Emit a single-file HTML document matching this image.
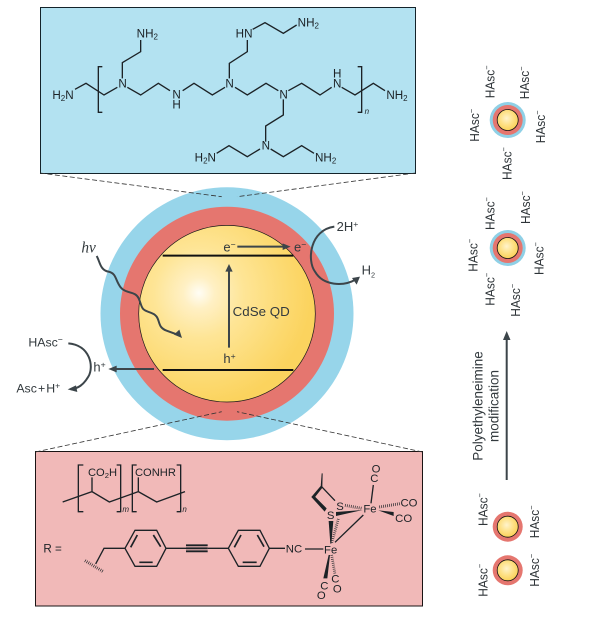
<!DOCTYPE html>
<html><head><meta charset="utf-8"><style>
html,body{margin:0;padding:0;background:#fff}
svg{display:block}
text{font-family:"Liberation Sans",sans-serif}
.b{fill:none;stroke:#1c2226;stroke-width:4;stroke-linejoin:miter}
.c{fill:#1c2226;font-size:35px}
.d{fill:#1c2226;font-size:34px;text-anchor:middle}
.h{fill:#2e3438;font-size:13px}
.t{fill:#333a3e;font-size:39px}
.a{fill:none;stroke:#3c454a;stroke-width:6}
.ah{fill:#3c454a}
</style></head><body>
<svg width="600" height="625" viewBox="0 0 600 625" xmlns="http://www.w3.org/2000/svg">
<defs>
<radialGradient id="g" gradientUnits="userSpaceOnUse" cx="199" cy="293" r="112">
<stop offset="0" stop-color="#fffdf5"/><stop offset=".14" stop-color="#fff0c4"/><stop offset=".4" stop-color="#fee596"/><stop offset=".8" stop-color="#fcd96f"/><stop offset="1" stop-color="#fbd35e"/>
</radialGradient>
<radialGradient id="gs" cx=".45" cy=".42" r=".6">
<stop offset="0" stop-color="#fff3cc"/><stop offset=".5" stop-color="#fee28a"/><stop offset="1" stop-color="#fbd055"/>
</radialGradient>
</defs>

<!-- top box -->
<rect x="40.500" y="7.500" width="375" height="166" fill="#b3e2f1" stroke="#14232a" stroke-width="1"/>
<g transform="translate(30,0) scale(.33333)">
<path class="b" d="M135 268L168 250L222 285L262 262M277 235V188L332 155V120M292 262L332 285L385 250L420 272M458 272L492 250L547 285L585 262M598 235V190L652 155V120M668 88L705 68L760 100L800 75M615 262L652 285L708 250L745 272M775 272L815 250L870 285L905 262M935 262L975 285L1030 250L1065 272M760 298V345L707 378V425M690 447L652 470L597 437L560 460M722 447L760 470L815 437L852 460M217 200H205V337H217M983 200H995V337H983"/>
<text class="c" x="67" y="297">H<tspan font-size="24" dy="6">2</tspan><tspan dy="-6">N</tspan></text>
<text class="c" x="265" y="263">N</text>
<text class="c" x="320" y="112">NH<tspan font-size="24" dy="6">2</tspan></text>
<text class="c" x="427" y="296">N</text><text class="c" x="427" y="326">H</text>
<text class="c" x="586" y="263">N</text>
<text class="c" x="617" y="112">HN</text>
<text class="c" x="803" y="79">NH<tspan font-size="24" dy="6">2</tspan></text>
<text class="c" x="748" y="296">N</text>
<text class="c" x="909" y="263">N</text><text class="c" x="909" y="232">H</text>
<text class="c" x="1069" y="297">NH<tspan font-size="24" dy="6">2</tspan></text>
<text class="c" x="695" y="448">N</text>
<text class="c" x="494" y="484">H<tspan font-size="24" dy="6">2</tspan><tspan dy="-6">N</tspan></text>
<text class="c" x="855" y="484">NH<tspan font-size="24" dy="6">2</tspan></text>
<text class="c" x="1004" y="342" style="font-size:24px;font-style:italic">n</text>
</g>

<!-- bottom box -->
<rect x="35.500" y="451.500" width="387" height="154.500" fill="#f1b9b8" stroke="#1a1414" stroke-width="1"/>
<g transform="translate(30,440) scale(.33333)">
<path class="b" d="M98 186L186 155L238 186L325 155L380 186L465 155M186 155V112M325 155V112M160 75H145V215H160M260 75H272V215H260M320 75H307V215H320M440 75H452V215H440"/>
<text class="c" x="174" y="108" style="font-size:33.500px">CO<tspan font-size="23" dy="6">2</tspan><tspan dy="-6">H</tspan></text>
<text class="c" x="315" y="108" style="font-size:33.500px">CONHR</text>
<text class="c" x="277" y="216" style="font-size:24px;font-style:italic">m</text>
<text class="c" x="457" y="216" style="font-size:24px;font-style:italic">n</text>
<text class="c" x="40" y="337">R =</text>
<path d="M165 362L220 395" fill="none" stroke="#1c2226" style="stroke-width:9;stroke-dasharray:2 4"/>
<path class="b" d="M197 372L222 325H285L315 271H380L408 325L380 379H315L285 325M408 325H468M533 325H595L625 271H690L718 325L690 379H625L595 325M718 325H765"/>
<path class="b" d="M302 322L322 285M370 285L392 320M328 367H368M613 322L633 285M682 285L702 320M638 367H680" style="stroke-width:5"/>
<path class="b" d="M468 316H533M468 325H533M468 334H533" style="stroke-width:5.500"/>
<text class="d" x="792" y="338">NC</text>
<g transform="translate(780,45)">
<path class="b" d="M45 282H100M95 95L135 137M220 180L135 262M250 90L243 145"/>
<path d="M95 55L98 55L97 96L92 96Z" fill="#1c2226"/>
<path d="M92 93L98 97L72 130L64 126Z" fill="#1c2226"/>
<path d="M64 126L72 122L110 160L104 170Z" fill="#1c2226"/>
<path d="M138 171L138 183L218 165Z" fill="#1c2226"/>
<path d="M265 166L311 171L311 183Z" fill="#1c2226"/>
<path d="M116 198L130 198L124 266L121 266Z" fill="#1c2226"/>
<path d="M116 300L120 300L112 370L100 370Z" fill="#1c2226"/>
<path d="M165 151L215 160M268 156L330 146" fill="none" stroke="#1c2226" stroke-width="9" stroke-dasharray="2 4"/>
<path d="M145 192L125 265M125 300L135 358" fill="none" stroke="#1c2226" stroke-width="8" stroke-dasharray="2 4"/>
<text class="d" x="240" y="172">Fe</text>
<text class="d" x="122" y="295">Fe</text>
<text class="d" x="150" y="165">S</text>
<text class="d" x="122" y="192">S</text>
<text class="d" x="258" y="53">O</text>
<text class="d" x="253" y="81">C</text>
<text class="d" x="357" y="155">CO</text>
<text class="d" x="341" y="201">CO</text>
<text class="d" x="103" y="403">C</text>
<text class="d" x="94" y="432">O</text>
<text class="d" x="136" y="382">C</text>
<text class="d" x="142" y="413">O</text>
</g>
</g>

<!-- main particle -->
<circle cx="227" cy="313.700" r="126.500" fill="#97d5ea"/>
<circle cx="227" cy="313.700" r="107" fill="#e5766f"/>
<circle cx="227" cy="313.700" r="88.300" fill="url(#g)" stroke="#1a1a1a" stroke-width=".7"/>

<!-- dashed connectors -->
<g fill="none" stroke="#333" stroke-width=".8" stroke-dasharray="5 2.500">
<path d="M40 173L221.700 196.700"/><path d="M415.500 173L237 196.700"/>
<path d="M35.500 452L221.700 411.700"/><path d="M422.500 452L237 411.700"/>
</g>

<g transform="translate(0,180) scale(.33333)">
<path d="M488 227H880M488 570H880" stroke="#111" stroke-width="6" fill="none"/>
<path class="a" d="M687 503V270M712 200H860M462 567H345"/>
<path class="ah" d="M687 252L698 275H676ZM872 200L848 190V210ZM325 567L350 557V577Z"/>
<path class="a" d="M290 228C300 245 300 270 325 275C350 280 345 300 362 322C378 342 405 332 416 355C428 382 420 388 452 398C488 410 465 440 500 452L535 465"/>
<path class="ah" d="M546 474L522 464L538 449Z"/>
<path class="a" d="M1003 140C930 150 920 240 945 275C970 318 1030 320 1068 298"/>
<path class="ah" d="M1080 290L1056 294L1070 314Z"/>
<path class="a" d="M205 490C270 495 283 560 265 590C250 615 235 625 212 628"/>
<path class="ah" d="M203 628L228 616L232 636Z"/>
<text class="t" x="670" y="215">e<tspan font-size="26" dy="-12">−</tspan></text>
<text class="t" x="882" y="215">e<tspan font-size="26" dy="-12">−</tspan></text>
<text class="t" x="670" y="549">h<tspan font-size="26" dy="-12">+</tspan></text>
<text class="t" x="280" y="575">h<tspan font-size="26" dy="-12">+</tspan></text>
<text class="t" x="698" y="408" style="font-size:40px">CdSe QD</text>
<text class="t" x="1010" y="153">2H<tspan font-size="26" dy="-12">+</tspan></text>
<text class="t" x="1085" y="283">H<tspan font-size="22" dy="10">2</tspan></text>
<text x="244" y="218" style="font-family:'Liberation Serif',serif;font-style:italic;font-size:46px;fill:#333a3e">hν</text>
<text class="t" x="85" y="500" style="font-size:37px">HAsc<tspan font-size="26" dy="-12">−</tspan></text>
<text class="t" x="49" y="638" style="font-size:37px;word-spacing:-7px">Asc + H<tspan font-size="26" dy="-12">+</tspan></text>
</g>

<!-- small particles -->
<circle cx="507.700" cy="120" r="18" fill="#8fd0e6"/><circle cx="507.700" cy="120" r="15" fill="#e5766f"/><circle cx="507.700" cy="120" r="10.500" fill="url(#gs)" stroke="#111" stroke-width=".8"/>
<circle cx="507.700" cy="248" r="18" fill="#8fd0e6"/><circle cx="507.700" cy="248" r="15" fill="#e5766f"/><circle cx="507.700" cy="248" r="10.500" fill="url(#gs)" stroke="#111" stroke-width=".8"/>
<circle cx="507.700" cy="526.700" r="15" fill="#e5766f"/><circle cx="507.700" cy="526.700" r="10.500" fill="url(#gs)" stroke="#111" stroke-width=".8"/>
<circle cx="507.700" cy="570.300" r="15" fill="#e5766f"/><circle cx="507.700" cy="570.300" r="10.500" fill="url(#gs)" stroke="#111" stroke-width=".8"/>

<!-- HAsc labels -->
<text class="h" transform="translate(494.300,98.300) rotate(-90) scale(.92,1)">HAsc<tspan font-size="8" dy="-5">−</tspan></text>
<text class="h" transform="translate(529,99.300) rotate(-90) scale(.92,1)">HAsc<tspan font-size="8" dy="-5">−</tspan></text>
<text class="h" transform="translate(479,141.700) rotate(-90) scale(.92,1)">HAsc<tspan font-size="8" dy="-5">−</tspan></text>
<text class="h" transform="translate(545,143.300) rotate(-90) scale(.92,1)">HAsc<tspan font-size="8" dy="-5">−</tspan></text>
<text class="h" transform="translate(511.700,180) rotate(-90) scale(.92,1)">HAsc<tspan font-size="8" dy="-5">−</tspan></text>
<text class="h" transform="translate(494.300,230) rotate(-90) scale(.92,1)">HAsc<tspan font-size="8" dy="-5">−</tspan></text>
<text class="h" transform="translate(530,224) rotate(-90) scale(.92,1)">HAsc<tspan font-size="8" dy="-5">−</tspan></text>
<text class="h" transform="translate(477.300,271.700) rotate(-90) scale(.92,1)">HAsc<tspan font-size="8" dy="-5">−</tspan></text>
<text class="h" transform="translate(543.300,275) rotate(-90) scale(.92,1)">HAsc<tspan font-size="8" dy="-5">−</tspan></text>
<text class="h" transform="translate(494.300,305.700) rotate(-90) scale(.92,1)">HAsc<tspan font-size="8" dy="-5">−</tspan></text>
<text class="h" transform="translate(520,316.700) rotate(-90) scale(.92,1)">HAsc<tspan font-size="8" dy="-5">−</tspan></text>
<text class="h" transform="translate(487.300,526) rotate(-90) scale(.92,1)">HAsc<tspan font-size="8" dy="-5">−</tspan></text>
<text class="h" transform="translate(539,538.300) rotate(-90) scale(.92,1)">HAsc<tspan font-size="8" dy="-5">−</tspan></text>
<text class="h" transform="translate(487.300,596.700) rotate(-90) scale(.92,1)">HAsc<tspan font-size="8" dy="-5">−</tspan></text>
<text class="h" transform="translate(539,586.700) rotate(-90) scale(.92,1)">HAsc<tspan font-size="8" dy="-5">−</tspan></text>

<!-- modification arrow -->
<path d="M506.700 480V338" stroke="#3c454a" stroke-width="2" fill="none"/>
<path d="M506.700 331L510.500 340H503Z" fill="#3c454a"/>
<text transform="translate(482.700,406) rotate(-90)" text-anchor="middle" style="font-size:13.500px;fill:#333a3e">Polyethyleneimine</text>
<text transform="translate(498.300,406) rotate(-90)" text-anchor="middle" style="font-size:13.500px;fill:#333a3e">modification</text>
</svg>
</body></html>
